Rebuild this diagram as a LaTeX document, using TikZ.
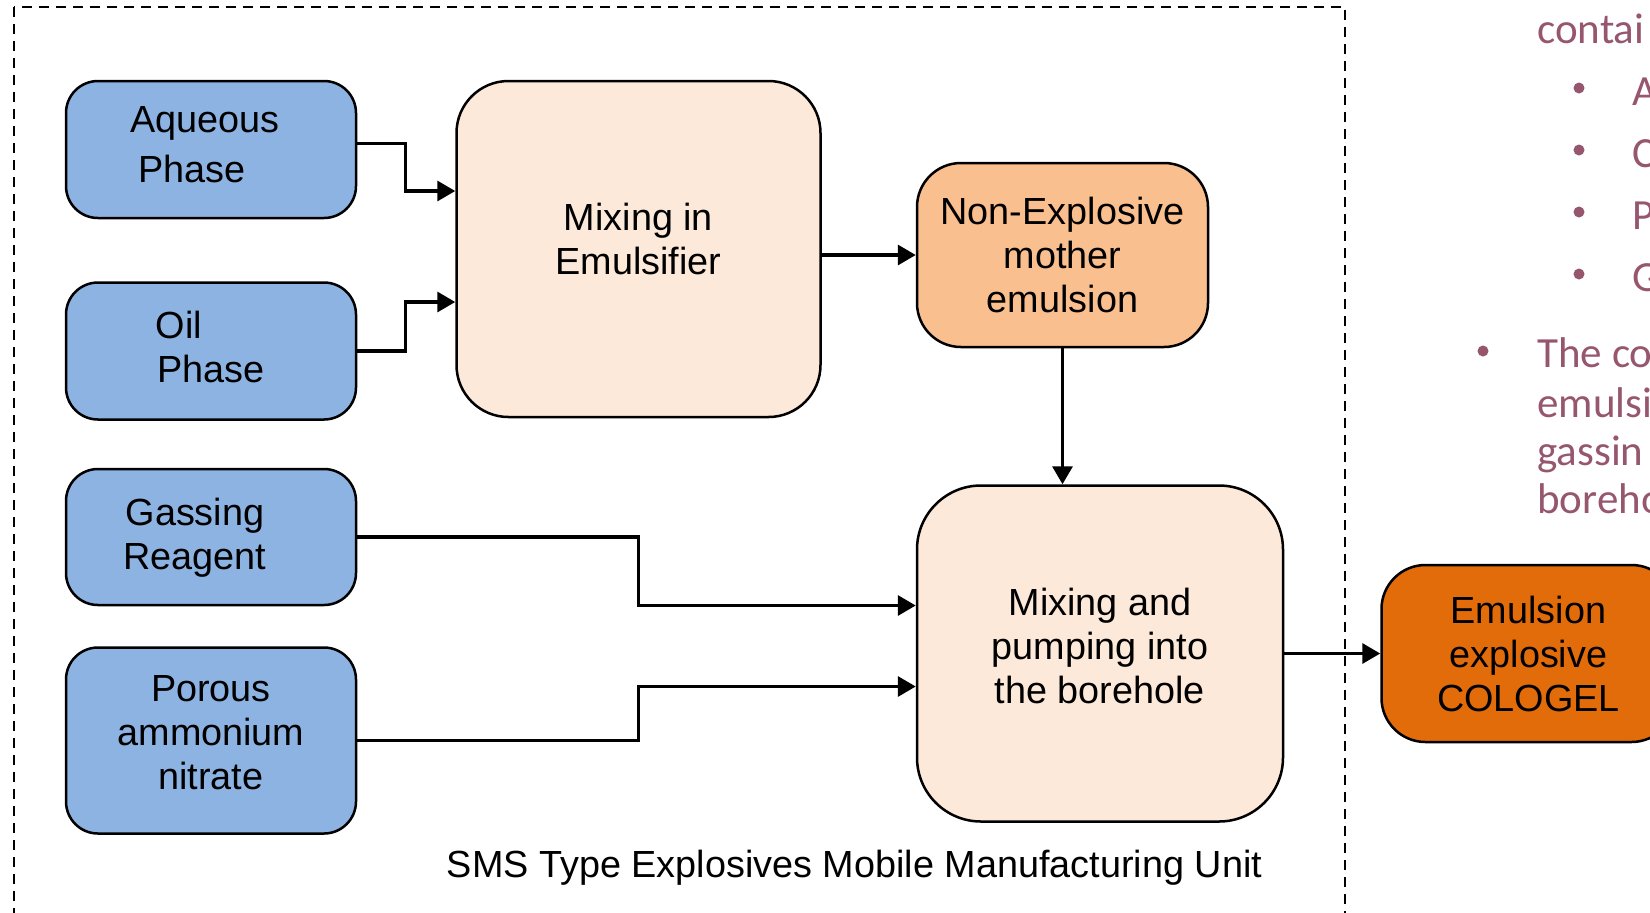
\documentclass[tikz,border=0pt]{standalone}
\usepackage{fontspec}
\setmainfont{Liberation Sans}
\newfontfamily\slidefont{Carlito}
\usetikzlibrary{positioning,arrows.meta}
\definecolor{inblue}{RGB}{141,179,226}
\definecolor{peach}{RGB}{253,233,217}
\definecolor{lightorange}{RGB}{250,191,143}
\definecolor{darkorange}{RGB}{226,107,10}
\definecolor{slidetext}{RGB}{150,86,110}

\begin{document}
\begin{tikzpicture}[x=0.5pt,y=-0.5pt,
    box node/.style={draw,line width=1.25pt,inner sep=0pt,align=center,font=\fontsize{18.9pt}{22pt}\selectfont},
    input node/.style={box node,fill=inblue,rounded corners=16pt,minimum width=145pt,minimum height=68.5pt},
    mix node/.style={box node,fill=peach,minimum width=182pt,minimum height=168pt},
    flow/.style={line width=1.7pt,-{Triangle[length=9pt,width=10pt]}},
    slide/.style={anchor=base west,inner sep=0pt,text=slidetext,font=\slidefont\fontsize{21.5pt}{24pt}\selectfont}]
        \useasboundingbox (0,0) rectangle (1650,912);
        \clip (0,0) rectangle (1650,912);
        \draw[line width=1.4pt,dash pattern=on 5pt off 3.5pt] (14,7) rectangle (1345,980);
        % inputs
        \node[input node,font=\fontsize{18.9pt}{25pt}\selectfont,text depth=5.3pt] (aq) at (211,149.5) {Aqueous\hspace*{6pt}\\Phase\hspace*{19pt}};
        \node[input node,text depth=4.2pt] (oil) [below=31pt of aq] {Oil\hspace*{32pt}\\Phase};
        \node[input node,minimum height=68pt,text depth=2.8pt] (gas) [below=23.5pt of oil] {Gassing\hspace*{16pt}\\Reagent\hspace*{16pt}};
        \node[input node,minimum height=93pt,text depth=8.4pt] (por) [below=20pt of gas] {Porous\\ammonium\\nitrate};
        % mixing
        \node[mix node,rounded corners=26pt,text depth=10.6pt] (emu) [right=49pt of aq.north east,anchor=north west] {Mixing in\\Emulsifier};
        \node[box node,fill=lightorange,rounded corners=22pt,minimum width=145.5pt,minimum height=92pt] (nonex) [right=47pt of emu,yshift=-3pt] {Non-Explosive\\mother\\emulsion};
        \node[mix node,rounded corners=32pt,minimum width=183pt,text depth=7.4pt] (pump) [below=68pt of nonex.south west,anchor=north west] {Mixing and\\pumping into\\the borehole};
        \node[box node,fill=darkorange,rounded corners=22pt,minimum width=147pt,minimum height=88.5pt] (colo) [right=48pt of pump] {Emulsion\\explosive\\COLOGEL};
        \node[anchor=base,inner sep=0pt,font=\fontsize{18.9pt}{22pt}\selectfont] (unit) at (854.5,877) {SMS Type Explosives Mobile Manufacturing Unit};
        % connectors
        \draw[flow] ([yshift=3pt]aq.east) -- ++(24pt,0) |- ([yshift=29pt]emu.west);
        \draw[flow] (oil.east) -- ++(24pt,0) |- ([yshift=-26.5pt]emu.west);
        \draw[flow] (emu.east |- nonex.west) -- (nonex.west);
        \draw[flow] (nonex.south) -- (nonex.south |- pump.north);
        \draw[flow] (gas.east) -- (gas.east -| emu.south) |- ([yshift=24pt]pump.west);
        \draw[flow] (por.east) -- (por.east -| emu.south) |- ([yshift=-16.5pt]pump.west);
        \draw[flow] (pump.east) -- (colo.west);
        % slide text behind the figure
        \node[slide] (contai) at (1537,43) {contai};
        \foreach \ltr/\yy in {A/105,C/167,P/229,G/291} {
            \node[slide] (item-\ltr) at (1632,\yy) {\ltr};
            \fill[slidetext] (1579,\yy-17) circle (5.5);
        }
        \fill[slidetext] (1483,351) circle (5.5);
        \foreach \txt/\yy [count=\i] in {The co/367,emulsi/417,gassin/465,boreho/513}
            \node[slide] (line-\i) at (1537,\yy) {\txt};
    \end{tikzpicture}
\end{document}
